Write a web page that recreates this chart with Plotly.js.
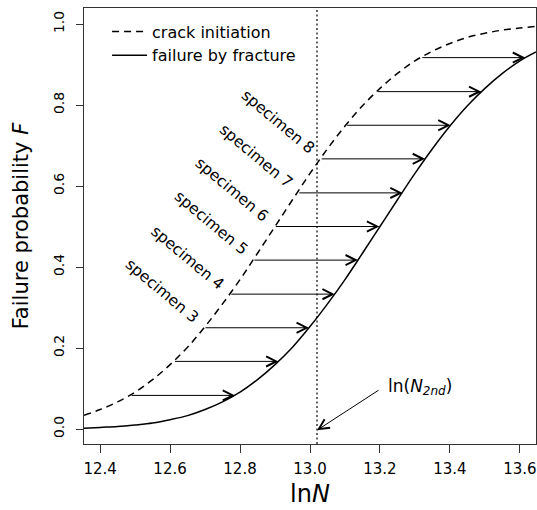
<!DOCTYPE html>
<html>
<head>
<meta charset="utf-8">
<script src="https://cdn.plot.ly/plotly-3.0.1.min.js"></script>
<style>html,body{margin:0;padding:0;background:#fff;}#chart{width:537px;height:510px;}</style>
</head>
<body>
<div id="chart"></div>
<script>
// ln N grid
const lnN = [12.354, 12.40, 12.45, 12.50, 12.55, 12.60, 12.65, 12.70, 12.75, 12.80, 12.85, 12.90, 12.95,
             13.00, 13.05, 13.10, 13.15, 13.20, 13.25, 13.30, 13.35, 13.40, 13.45, 13.50, 13.55, 13.60, 13.646];
// crack initiation (dashed)
const F_crack = [0.034, 0.048, 0.067, 0.091, 0.122, 0.159, 0.202, 0.253, 0.309, 0.369, 0.434, 0.500, 0.566,
                 0.631, 0.692, 0.748, 0.798, 0.841, 0.878, 0.909, 0.933, 0.952, 0.967, 0.977, 0.985, 0.990, 0.994];
// failure by fracture (solid)
const F_fracture = [0.002, 0.004, 0.006, 0.010, 0.015, 0.023, 0.033, 0.048, 0.067, 0.091, 0.122, 0.159, 0.202,
                    0.253, 0.309, 0.369, 0.434, 0.500, 0.566, 0.631, 0.692, 0.748, 0.798, 0.841, 0.878, 0.909, 0.931];
// horizontal arrows: level, start (on dashed) and end (on solid)
const arrowF     = [0.083, 0.167, 0.250, 0.333, 0.417, 0.500, 0.583, 0.667, 0.750, 0.833, 0.917];
const arrowStart = [12.486, 12.610, 12.697, 12.771, 12.837, 12.898, 12.965, 13.029, 13.102, 13.190, 13.317];
const arrowEnd   = [12.786, 12.910, 12.997, 13.071, 13.137, 13.198, 13.265, 13.329, 13.402, 13.490, 13.615];
// specimen labels attached to arrows 3..8
const specimenLabels = ['specimen 3', 'specimen 4', 'specimen 5', 'specimen 6', 'specimen 7', 'specimen 8'];
const specimenArrowIdx = [2, 3, 4, 5, 6, 7];
// ln(N_2nd)
const lnN2nd = 13.02;
const lnN2ndLabel = 'ln(<i>N</i><span style="font-size:12px;font-style:italic;baseline-shift:-28%">2nd</span>)';
const lnN2ndArrowTail = [13.20, 0.098];
const lnN2ndArrowTip = [13.02, -0.003];
const lnN2ndTextPos = [13.218, 0.104];
const xTicks = [12.4, 12.6, 12.8, 13.0, 13.2, 13.4, 13.6];
const yTicks = [0.0, 0.2, 0.4, 0.6, 0.8, 1.0];

const FONT = 'DejaVu Sans, Arial, sans-serif';

const traces = [
  {x: lnN, y: F_crack, mode: 'lines', name: 'crack initiation', line: {color: '#000', width: 1.5, dash: '7px,5px', shape: 'spline'}},
  {x: lnN, y: F_fracture, mode: 'lines', name: 'failure by fracture', line: {color: '#000', width: 1.5, shape: 'spline'}}
];

const annotations = [];
for (let i = 0; i < arrowF.length; i++) {
  annotations.push({
    x: arrowEnd[i], y: arrowF[i], ax: arrowStart[i], ay: arrowF[i],
    xref: 'x', yref: 'y', axref: 'x', ayref: 'y',
    text: '', showarrow: true, arrowhead: 5, arrowsize: 2, arrowwidth: 1, arrowcolor: '#000', standoff: 0
  });
}
specimenArrowIdx.forEach((k, j) => {
  annotations.push({
    x: arrowStart[k], y: arrowF[k], xref: 'x', yref: 'y',
    text: specimenLabels[j], showarrow: false, textangle: 40,
    xanchor: 'right', yanchor: 'bottom', xshift: 1, yshift: -2,
    font: {family: FONT, size: 15.5, color: '#000'}
  });
});
annotations.push({
  x: lnN2ndArrowTip[0], y: lnN2ndArrowTip[1], ax: lnN2ndArrowTail[0], ay: lnN2ndArrowTail[1],
  xref: 'x', yref: 'y', axref: 'x', ayref: 'y',
  text: '', showarrow: true, arrowhead: 5, arrowsize: 2, arrowwidth: 1, arrowcolor: '#000', standoff: 0
});
annotations.push({
  x: lnN2ndTextPos[0], y: lnN2ndTextPos[1], xref: 'x', yref: 'y',
  text: lnN2ndLabel, showarrow: false, xanchor: 'left', yanchor: 'middle',
  font: {family: FONT, size: 17, color: '#000'}
});

const layout = {
  width: 537, height: 510,
  margin: {l: 84, r: 1, t: 8, b: 66},
  paper_bgcolor: '#fff', plot_bgcolor: '#fff',
  showlegend: true,
  legend: {x: 0.051, y: 0.985, xanchor: 'left', yanchor: 'top', bgcolor: 'rgba(0,0,0,0)',
           font: {family: FONT, size: 16, color: '#000'}, itemwidth: 35, tracegroupgap: 0},
  xaxis: {
    range: [12.354, 13.646], tickvals: xTicks, tickformat: '.1f',
    ticks: 'outside', ticklen: 8, tickwidth: 1, tickcolor: '#333', ticklabelstandoff: 3,
    showline: true, linecolor: '#333', linewidth: 1, mirror: true,
    showgrid: false, zeroline: false,
    tickfont: {family: FONT, size: 15, color: '#000'},
    title: {text: 'ln<i>N</i>', font: {family: FONT, size: 24, color: '#000'}, standoff: 8}
  },
  yaxis: {
    range: [-0.037, 1.0395], tickvals: yTicks, tickformat: '.1f', tickangle: -90,
    ticks: 'outside', ticklen: 7, tickwidth: 1, tickcolor: '#333', ticklabelstandoff: 6,
    showline: true, linecolor: '#333', linewidth: 1, mirror: true,
    showgrid: false, zeroline: false,
    tickfont: {family: FONT, size: 14, color: '#000'},
    title: {text: 'Failure probability <i>F</i>', font: {family: FONT, size: 21, color: '#000'}, standoff: 17}
  },
  shapes: [{
    type: 'line', xref: 'x', yref: 'paper', x0: lnN2nd, x1: lnN2nd, y0: 0, y1: 1,
    line: {color: '#000', width: 1.2, dash: '2px,2.5px'}
  }],
  annotations: annotations
};

Plotly.newPlot('chart', traces, layout, {displayModeBar: false, staticPlot: true});
</script>
</body>
</html>
